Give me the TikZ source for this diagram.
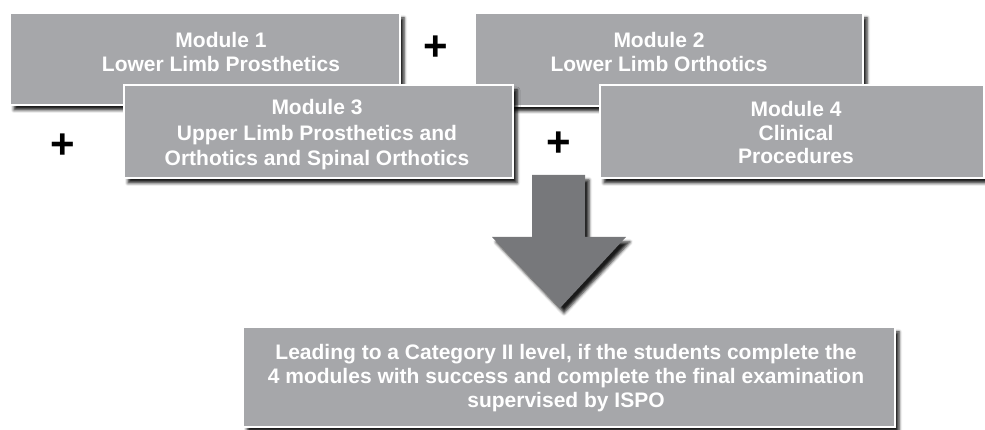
\documentclass[tikz,border=0pt]{standalone}
\usepackage{fontspec}
\setmainfont{Liberation Sans}
\usetikzlibrary{shadows.blur}
\definecolor{boxgray}{HTML}{A6A7AA}
\definecolor{arrowgray}{HTML}{77787B}
\tikzset{
  modbox/.style={draw=white, line width=1.2pt, fill=boxgray, inner sep=0pt,
    blur shadow={shadow xshift=4pt, shadow yshift=-5pt, shadow blur radius=3pt, shadow opacity=90}},
  modtext/.style={text=white, font=\bfseries\fontsize{21}{23.5}\selectfont, align=center, inner sep=0pt, anchor=north},
  plustext/.style={text=black, font=\bfseries\fontsize{42}{42}\selectfont, inner sep=0pt}
}
\begin{document}
\begin{tikzpicture}[x=1pt,y=1pt]
\useasboundingbox (0,0) rectangle (985,430);
% top row
\node[modbox, minimum width=390pt, minimum height=92pt] (m1) at (205,371) {};
\node[modbox, minimum width=388pt, minimum height=93pt] (m2) at (669,370.5) {};
\node[modtext] (t1) at (221,397.5) {Module 1\\Lower Limb Prosthetics};
\node[modtext] (t2) at (659,397.5) {Module 2\\Lower Limb Orthotics};
% second row
\node[modbox, minimum width=389pt, minimum height=93pt] (m3) at (318.5,298.5) {};
\node[modbox, minimum width=384pt, minimum height=93pt] (m4) at (792,298.5) {};
\node[modtext, font=\bfseries\fontsize{21}{25.5}\selectfont] (t3) at (317,330.5) {Module 3\\Upper Limb Prosthetics and\\Orthotics and Spinal Orthotics};
\node[modtext] (t4) at (796,328.5) {Module 4\\Clinical\\Procedures};
% plus signs
\node[plustext] (p1) at (436,382) {+};
\node[plustext] (p2) at (63,284) {+};
\node[plustext] (p3) at (559,286) {+};
% big arrow
\fill[arrowgray, blur shadow={shadow xshift=4pt, shadow yshift=-5pt, shadow blur radius=3pt, shadow opacity=90}]
  (532,255) -- (585,255) -- (585,193) -- (626,193) -- (560,122) -- (492,193) -- (532,193) -- cycle;
% result box
\node[modbox, minimum width=652pt, minimum height=100pt] (res) at (569,53) {};
\node[modtext, font=\bfseries\fontsize{21}{24}\selectfont] (tr) at (566,85.5) {Leading to a Category II level, if the students complete the\\4 modules with success and complete the final examination\\supervised by ISPO};
\end{tikzpicture}
\end{document}
